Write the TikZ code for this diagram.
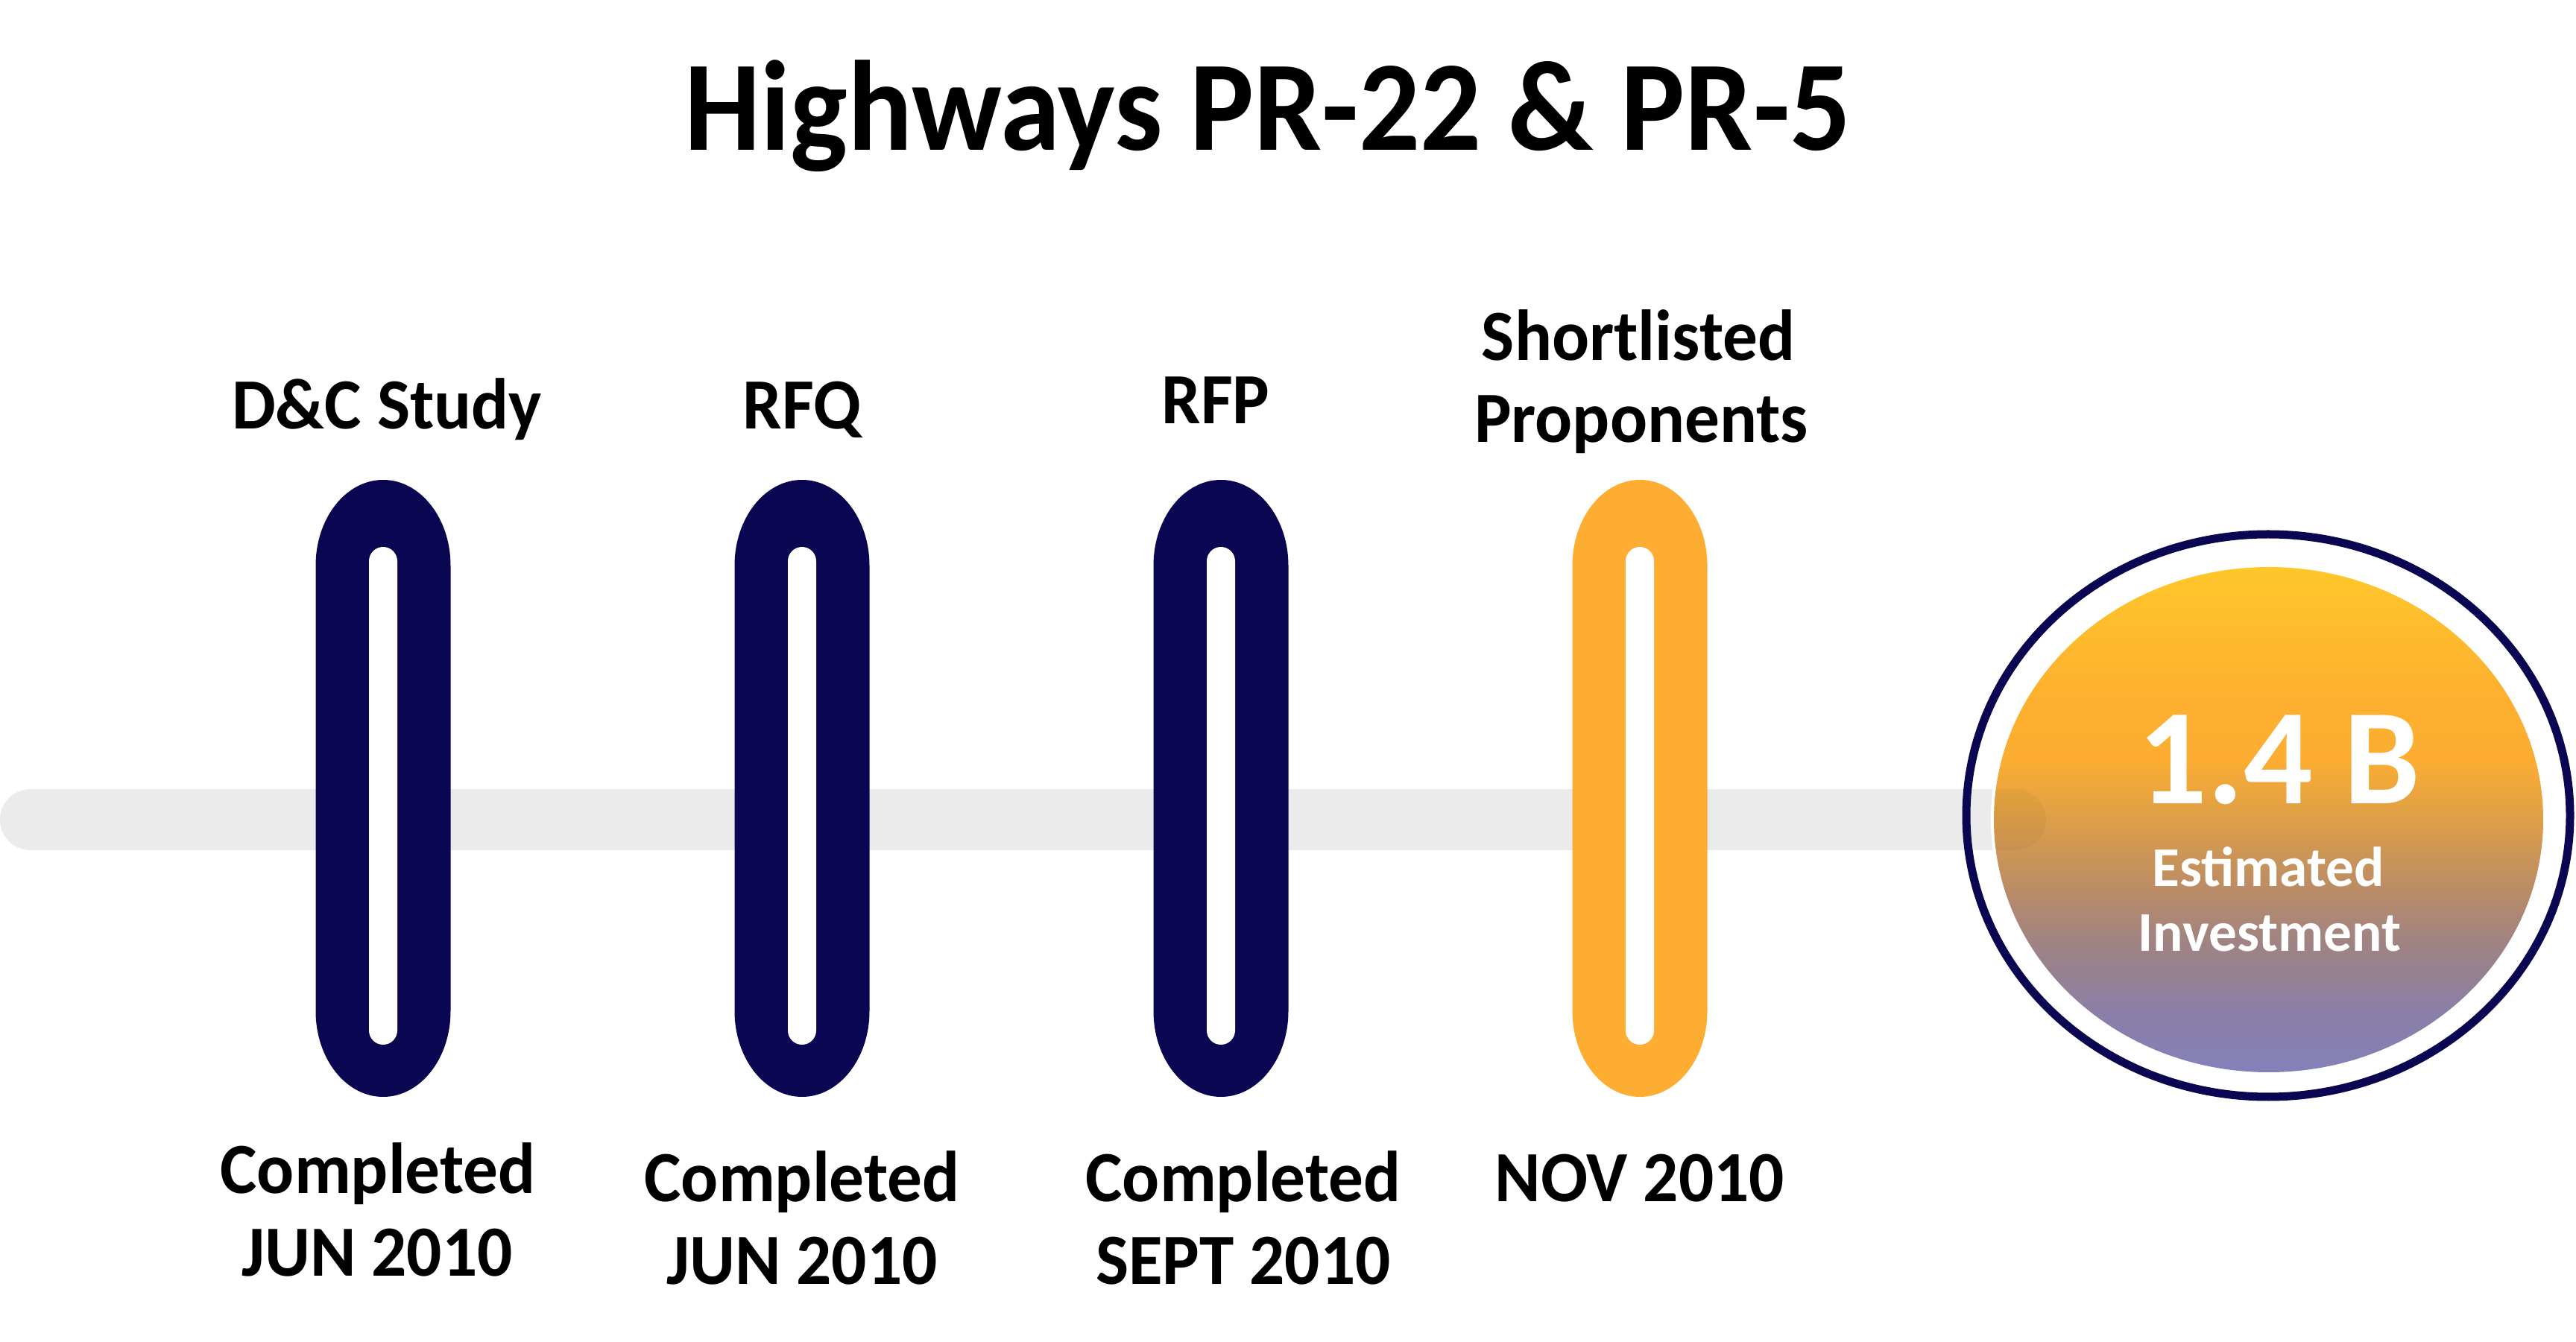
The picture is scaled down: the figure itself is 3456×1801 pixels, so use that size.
\documentclass[tikz,border=0pt]{standalone}
\usepackage{fontspec}
\setmainfont{Carlito}
\newfontfamily\ttlfont{Carlito}[FakeStretch=0.94]
\newfontfamily\lblfont{Carlito}[FakeStretch=0.965]
\usetikzlibrary{calc}
\definecolor{navy}{HTML}{0B0652}
\definecolor{pillorange}{HTML}{FEAD33}
\definecolor{bargray}{HTML}{EBEBEB}
\definecolor{ga}{HTML}{8480BA}
\definecolor{gb}{HTML}{8A7FA6}
\definecolor{gc}{HTML}{A08382}
\definecolor{gd}{HTML}{BF8E62}
\definecolor{ge}{HTML}{DD9F48}
\definecolor{gf}{HTML}{FCAD32}
\definecolor{gg}{HTML}{FDB12F}
\definecolor{gh}{HTML}{FFC72A}
\pgfdeclareverticalshading{investgrad}{100bp}{color(0bp)=(ga); color(25bp)=(ga); color(31bp)=(gb); color(38bp)=(gc); color(44bp)=(gd); color(50bp)=(ge); color(56bp)=(gf); color(63bp)=(gg); color(75bp)=(gh); color(100bp)=(gh)}
\newcommand{\pillshape}[2]{%
  \fill[#2] ({#1-90.5},-759) arc[start angle=180,end angle=0,x radius=90.5,y radius=115]
    -- ({#1+90.5},-1357) arc[start angle=0,end angle=-180,x radius=90.5,y radius=115] -- cycle;
  \fill[white,rounded corners=0.19cm] ({#1-19},-734) rectangle ({#1+19},-1402);
}
\tikzset{
  lbl/.style={anchor=base,inner sep=0pt,font=\lblfont\fontsize{27.5pt}{33pt}\selectfont\bfseries,text=black},
  ttl/.style={anchor=base,inner sep=0pt,font=\ttlfont\fontsize{49pt}{58pt}\selectfont\bfseries,text=black},
  bignum/.style={anchor=base,inner sep=0pt,font=\fontsize{52pt}{62pt}\selectfont\bfseries,text=white},
  smallw/.style={anchor=base,inner sep=0pt,font=\fontsize{21.4pt}{26pt}\selectfont\bfseries,text=white},
}
\begin{document}
\begin{tikzpicture}[x=0.01cm,y=0.01cm]
\useasboundingbox[fill=white] (0,0) rectangle (3456,-1801);
% timeline bar
\coordinate (barL) at (41,-1100);
\coordinate (barR) at (2704,-1100);
\draw[bargray,line width=0.82cm,line cap=round] (barL) -- (barR);
% pills
\pillshape{514}{navy}
\pillshape{1076}{navy}
\pillshape{1638}{navy}
\pillshape{2200}{pillorange}
% investment circle
\draw[navy,line width=0.11cm] (3043,-1094.5) ellipse[x radius=405,y radius=377.5];
\draw[white,line width=0.08cm] (3043.5,-1100) ellipse[x radius=368.5,y radius=339];
\shade[shading=investgrad] (3043.5,-1100) ellipse[x radius=368.5,y radius=339];
\begin{scope}
\clip (3043.5,-1100) ellipse[x radius=368.5,y radius=339];
\draw[black,opacity=0.035,line width=0.82cm,line cap=round] (barL) -- (barR);
\end{scope}
% texts
\node[ttl] (title) at (1701,-202) {Highways PR-22 \& PR-5};
\node[lbl] (t1) at (519,-576) {D\&C Study};
\node[lbl] (t2) at (1076,-576) {RFQ};
\node[lbl] (t3) at (1631,-569) {RFP};
\node[lbl] (t4a) at (2198,-484) {Shortlisted};
\node[lbl] (t4b) at (2202,-594) {Proponents};
\node[lbl] (b1a) at (507,-1602) {Completed};
\node[lbl] (b1b) at (506,-1712) {JUN 2010};
\node[lbl] (b2a) at (1076,-1613) {Completed};
\node[lbl] (b2b) at (1076,-1723) {JUN 2010};
\node[lbl] (b3a) at (1668,-1613) {Completed};
\node[lbl] (b3b) at (1668,-1723) {SEPT 2010};
\node[lbl] (b4) at (2200,-1613) {NOV 2010};
\node[bignum] (num) at (3058,-1079) {1.4 B};
\node[smallw] (est) at (3043,-1189.5) {Estimated};
\node[smallw] (inv) at (3045,-1277) {Investment};
\end{tikzpicture}
\end{document}
